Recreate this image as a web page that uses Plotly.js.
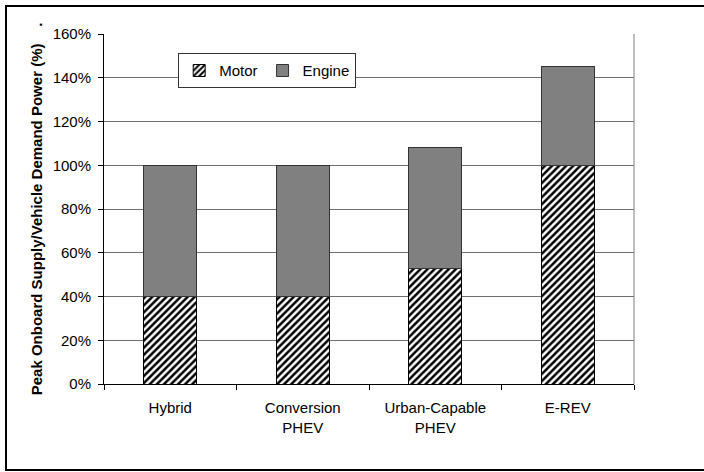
<!DOCTYPE html>
<html>
<head>
<meta charset="utf-8">
<script src="https://cdn.plot.ly/plotly-3.0.1.min.js"></script>
<style>
  html, body { margin: 0; padding: 0; width: 704px; height: 472px; overflow: hidden; background: #fff; }
  #chart { width: 704px; height: 472px; }
  #frame { position: absolute; left: 5px; top: 5px; width: 720px; height: 462px; border: 2px solid #000; pointer-events: none; }
</style>
</head>
<body>
<div id="chart"></div>
<div id="frame"></div>
<script>
const categories = ["Hybrid", "Conversion<br>PHEV", "Urban-Capable<br>PHEV", "E-REV"];
const motorValues = [40, 40, 53, 100];
const engineValues = [60, 60, 55, 45];
const seriesNames = ["Motor", "Engine"];
const yTitle = "Peak Onboard Supply/Vehicle Demand Power (%)\u00a0\u00a0\u00a0\u00a0.";

const font = { family: "Liberation Sans, Arial, sans-serif", size: 15, color: "#000" };

const traces = [
  {
    type: "bar", name: seriesNames[0], x: categories, y: motorValues, width: 0.4,
    marker: { color: "#fff", line: { color: "#000", width: 1 },
      pattern: { shape: "/", fgcolor: "#000", bgcolor: "#fff", size: 5, solidity: 0.5, fillmode: "replace" } },
    hoverinfo: "skip"
  },
  {
    type: "bar", name: seriesNames[1], x: categories, y: engineValues, width: 0.4,
    marker: { color: "#808080", line: { color: "#333", width: 1 } },
    hoverinfo: "skip"
  }
];

const layout = {
  width: 704, height: 472,
  margin: { l: 104, r: 70, t: 34, b: 88 },
  paper_bgcolor: "#fff", plot_bgcolor: "#fff",
  font: font,
  barmode: "stack",
  showlegend: true,
  legend: {
    orientation: "h", x: 0.14, y: 0.945, xanchor: "left", yanchor: "top",
    bgcolor: "#fff", bordercolor: "#333", borderwidth: 1,
    font: font, itemwidth: 30, traceorder: "normal"
  },
  xaxis: {
    type: "category", showline: true, linecolor: "#000", linewidth: 1,
    ticks: "outside", tickson: "boundaries", ticklen: 5, tickcolor: "#000",
    ticklabelstandoff: 10,
    showgrid: false, tickfont: font, fixedrange: true
  },
  yaxis: {
    range: [0, 160], dtick: 20, ticksuffix: "%",
    showline: true, linecolor: "#000", linewidth: 1,
    ticks: "outside", ticklen: 5, tickcolor: "#000",
    ticklabelstandoff: 4,
    showgrid: true, gridcolor: "#707070", gridwidth: 1,
    zeroline: false, tickfont: font, fixedrange: true,
    title: { text: yTitle, font: { family: font.family, size: 15, color: "#000", weight: "bold" }, standoff: 6 }
  },
  shapes: [
    { type: "line", xref: "paper", yref: "paper", x0: 1, x1: 1, y0: 0, y1: 1, line: { color: "#808080", width: 1 } }
  ]
};

Plotly.newPlot("chart", traces, layout, { displayModeBar: false, staticPlot: true });
</script>
</body>
</html>
